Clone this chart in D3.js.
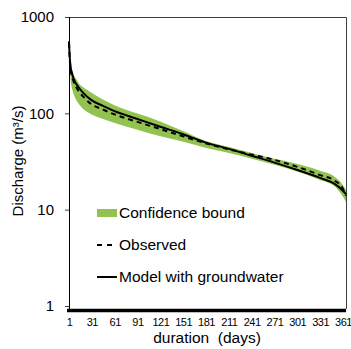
<!DOCTYPE html>
<html><head><meta charset="utf-8">
<script src="https://cdn.jsdelivr.net/npm/d3@7"></script>
<style>body{margin:0;background:#fff}svg{display:block;font-family:Arial,"Liberation Sans",sans-serif}</style>
</head><body>
<script>
const days      = [1,2,3,5,7,10,15,20,30,45,60,90,120,150,180,210,240,270,300,330,350,360,365];
const modelGW   = [560,380,310,260,230,205,180,162,138,120,106,88,73,61,50,43,36.5,31,26,21.5,18.5,16,14.5];
const observed  = [540,360,290,240,215,190,165,148,125,110,98,82,69,58,49,42.5,37.5,33,28,23,20,17,14];
const bandLow   = [500,300,230,180,160,140,122,110,98,88,80,68,58,51,44,39,34,29.5,25,20.5,17.5,14,12];
const bandHigh  = [580,400,330,280,250,230,200,185,165,140,122,100,83,66,52,45,39,34,30,25.5,22,18.5,16];
const xTicks    = [1,31,61,91,121,151,181,211,241,271,301,331,361];
const yTicks    = [1,10,100,1000];
const legendLabels = ["Confidence bound","Observed","Model with groundwater"];

const W=351,H=349;
const svg=d3.select("body").append("svg").attr("width",W).attr("height",H);
const x=d3.scaleLinear().domain([1,365]).range([69,346]);
const y=d3.scaleLog().domain([1,1000]).range([306,17]);

const rows=days.map((d,i)=>({d,m:modelGW[i],o:observed[i],lo:bandLow[i],hi:bandHigh[i]}));

// frame top/right
svg.append("path").attr("d",`M69,17.5H346.5V309`).attr("fill","none").attr("stroke","#404040").attr("stroke-width",1);

// band
svg.append("path").datum(rows)
  .attr("d",d3.area().x(r=>x(r.d)).y0(r=>y(r.lo)).y1(r=>y(r.hi)).curve(d3.curveMonotoneX))
  .attr("fill","#92c24f");
// observed
svg.append("path").datum(rows)
  .attr("d",d3.line().x(r=>x(r.d)).y(r=>y(r.o)).curve(d3.curveMonotoneX))
  .attr("fill","none").attr("stroke","#000").attr("stroke-width",2).attr("stroke-dasharray","5,4");
// model
svg.append("path").datum(rows)
  .attr("d",d3.line().x(r=>x(r.d)).y(r=>y(r.m)).curve(d3.curveMonotoneX))
  .attr("fill","none").attr("stroke","#000").attr("stroke-width",2);

// y axis
const ya=svg.append("g").attr("transform","translate(69,0)")
  .call(d3.axisLeft(y).tickValues(yTicks).tickFormat(d3.format("d")).tickSize(4).tickSizeOuter(0));
ya.select(".domain").attr("stroke","#000").attr("d","M0.5,17V309");
ya.selectAll("text").attr("font-size",15).attr("fill","#000").attr("x",-15);
ya.selectAll("line").attr("stroke","#404040");

// x axis thick line
svg.append("line").attr("x1",67).attr("x2",346).attr("y1",310.5).attr("y2",310.5).attr("stroke","#000").attr("stroke-width",3.5);
const xa=svg.append("g").attr("transform","translate(0,312)")
  .call(d3.axisBottom(x).tickValues(xTicks).tickSize(0).tickSizeOuter(0));
xa.select(".domain").remove();
xa.selectAll("text").attr("font-size",11).attr("letter-spacing","-0.5px").attr("fill","#000").attr("dy","1.0em");

// axis titles
svg.append("text").attr("x",207).attr("y",343).attr("text-anchor","middle").attr("font-size",15.5).attr("xml:space","preserve").text("duration  (days)");
svg.append("text").attr("transform","translate(23,161) rotate(-90)").attr("text-anchor","middle").attr("font-size",15).text("Discharge (m³/s)");

// legend
const lg=svg.append("g");
lg.append("rect").attr("x",97).attr("y",209).attr("width",20).attr("height",8).attr("fill","#92c24f");
lg.append("line").attr("x1",97).attr("x2",117).attr("y1",245).attr("y2",245).attr("stroke","#000").attr("stroke-width",2).attr("stroke-dasharray","5,5");
lg.append("line").attr("x1",97).attr("x2",117).attr("y1",277).attr("y2",277).attr("stroke","#000").attr("stroke-width",2);
[213,245,277].forEach((yy,i)=>{
  lg.append("text").attr("x",119).attr("y",yy).attr("dy","0.35em").attr("font-size",15.5).text(legendLabels[i]);
});
</script>
</body></html>
